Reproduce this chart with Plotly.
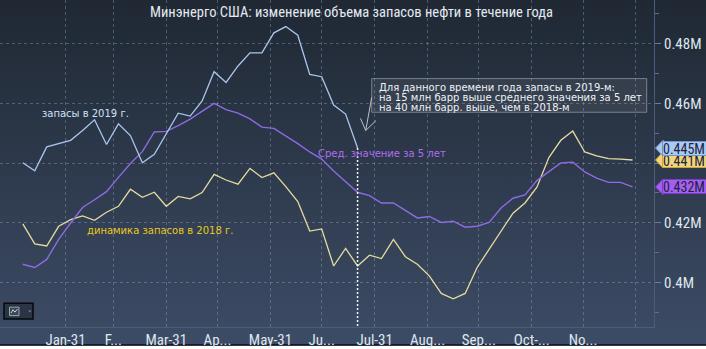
import base64
import pandas as pd
import plotly.graph_objects as go

# Weekly observation dates (one point per week over the year)
weeks = pd.date_range("2019-01-06", periods=52, freq="7D")

# Crude oil stocks, million barrels expressed in "M" units of the axis
stocks_2019 = [0.4401, 0.4374, 0.4454, 0.4465, 0.4476, 0.4509, 0.4545, 0.4462,
               0.4531, 0.4492, 0.4401, 0.4429, 0.4498, 0.4567, 0.4557, 0.4608,
               0.4706, 0.4670, 0.4725, 0.4769, 0.4769, 0.4836, 0.4857, 0.4828,
               0.4697, 0.4689, 0.4594, 0.4564, 0.445]

avg_5y = [0.4061, 0.4050, 0.4077, 0.4144, 0.4199, 0.4251, 0.4277, 0.4304,
          0.4352, 0.4398, 0.4438, 0.4504, 0.4506, 0.4525, 0.4547, 0.4575,
          0.4600, 0.4579, 0.4567, 0.4548, 0.4520, 0.4516, 0.4491, 0.4465,
          0.4437, 0.4413, 0.4373, 0.4338, 0.4302, 0.4291, 0.4266, 0.4266,
          0.4240, 0.4216, 0.4221, 0.4201, 0.4205, 0.4185, 0.4188, 0.4201,
          0.4249, 0.4282, 0.4293, 0.4341, 0.4371, 0.4400, 0.4403, 0.4370,
          0.4349, 0.4335, 0.4335, 0.432]

stocks_2018 = [0.4196, 0.4129, 0.4122, 0.4188, 0.4210, 0.4223, 0.4208, 0.4235,
               0.4255, 0.4312, 0.4285, 0.4302, 0.4255, 0.4288, 0.4280, 0.4301,
               0.4362, 0.4343, 0.4329, 0.4382, 0.4351, 0.4367, 0.4321, 0.4271,
               0.4172, 0.4179, 0.4055, 0.4114, 0.4055, 0.4091, 0.4080, 0.4144,
               0.4086, 0.4061, 0.4022, 0.3963, 0.3945, 0.3963, 0.4050, 0.4111,
               0.4172, 0.4232, 0.4266, 0.4319, 0.4418, 0.4476, 0.4507, 0.4437,
               0.4424, 0.4415, 0.4413, 0.441]

month_ends = ["2019-01-31", "2019-02-28", "2019-03-31", "2019-04-30",
              "2019-05-31", "2019-06-30", "2019-07-31", "2019-08-31",
              "2019-09-30", "2019-10-31", "2019-11-30", "2019-12-31"]
month_labels = ["Jan-31", "F...", "Mar-31", "Ap...", "May-31", "Ju...",
                "Jul-31", "Aug...", "Sep...", "Oct-...", "No...", ""]

y_ticks = [0.40, 0.42, 0.44, 0.46, 0.48]
y_labels = ["0.4M", "0.42M", "", "0.46M", "0.48M"]

title_text = "Минэнерго США: изменение объема запасов нефти в течение года"
label_2019 = "запасы в 2019 г."
label_2018 = "динамика запасов в 2018 г."
label_avg = "Сред. значение за 5 лет"
note_lines = ["Для данного времени года запасы в 2019-м:",
              "на 15 млн барр выше среднего значения за 5 лет",
              "на 40 млн барр. выше, чем в 2018-м"]

# Canvas geometry
W, H = 706, 349
ML, MR, MT, MB = 0, 52, 0, 19
PW, PH = W - ML - MR, H - MT - MB

def px(x):
    return (x - ML) / PW

def py(y):
    return 1 - (y - MT) / PH

NARROW = "Roboto Condensed, DejaVu Sans Condensed, sans-serif"
BODY = "DejaVu Sans, Verdana, sans-serif"

C2019 = "#a9c6ec"
CAVG = "#8d6be2"
C2018 = "#e4dc9e"
GRID = "rgba(150,172,200,0.38)"
AXIS = "#4a5e7c"

fig = go.Figure()
fig.add_trace(go.Scatter(x=weeks, y=stocks_2018, mode="lines",
                         line=dict(color=C2018, width=1.3), hoverinfo="skip"))
fig.add_trace(go.Scatter(x=weeks, y=avg_5y, mode="lines",
                         line=dict(color=CAVG, width=1.4), hoverinfo="skip"))
fig.add_trace(go.Scatter(x=weeks[:len(stocks_2019)], y=stocks_2019, mode="lines",
                         line=dict(color=C2019, width=1.3), hoverinfo="skip"))

# Background gradient
svg = (f'<svg xmlns="http://www.w3.org/2000/svg" width="{W}" height="{H}">'
       '<defs><linearGradient id="g" x1="0" y1="0" x2="0" y2="1">'
       '<stop offset="0" stop-color="#1f2833"/>'
       '<stop offset="1" stop-color="#3d4c66"/>'
       '</linearGradient></defs>'
       f'<rect width="{W}" height="{H}" fill="url(#g)"/></svg>')
bg_src = "data:image/svg+xml;base64," + base64.b64encode(svg.encode()).decode()

y_range = [0.40 - (330 - 285) / 3012.5, 0.40 + 285 / 3012.5]
px_per_day = 1.708
x0_date = pd.Timestamp("2019-01-31") - pd.Timedelta(days=65.5 / px_per_day)
x1_date = pd.Timestamp("2019-01-31") + pd.Timedelta(days=(PW - 65.5) / px_per_day)

shapes = []
# bottom edge band
shapes.append(dict(type="rect", xref="paper", yref="paper", layer="below",
                   x0=px(0), x1=px(W), y0=py(349), y1=py(347.2),
                   fillcolor="#151c28", line=dict(width=0)))
# current-week marker
last_i = len(stocks_2019) - 1
shapes.append(dict(type="line", xref="x", yref="y",
                   x0=weeks[last_i], x1=weeks[last_i],
                   y0=stocks_2019[-1], y1=y_range[0],
                   line=dict(color="#f2f4f6", width=1.5, dash="2px,2px")))

# callout box
shapes.append(dict(type="rect", xref="paper", yref="paper",
                   x0=px(371.7), x1=px(646.7), y0=py(113.3), y1=py(79.3),
                   fillcolor="rgba(255,255,255,0.07)",
                   line=dict(color="rgba(190,200,215,0.5)", width=1)))
# callout arrow
arrow_col = "#b9c3cf"
for (xa, ya, xb, yb) in [(371.7, 98.3, 365.7, 131.7),
                         (360.5, 119.5, 365.7, 131.7),
                         (376.0, 121.7, 365.7, 131.7)]:
    shapes.append(dict(type="line", xref="paper", yref="paper",
                       x0=px(xa), y0=py(ya), x1=px(xb), y1=py(yb),
                       line=dict(color=arrow_col, width=1)))

# chart-type button in the lower left corner
shapes.append(dict(type="rect", xref="paper", yref="paper",
                   x0=px(4), x1=px(33), y0=py(322), y1=py(306),
                   fillcolor="#2a3443", line=dict(color="#06080c", width=1.5)))
shapes.append(dict(type="rect", xref="paper", yref="paper",
                   x0=px(9.5), x1=px(19), y0=py(318.5), y1=py(310),
                   fillcolor="#3a4658", line=dict(color="#9aa6b4", width=1)))
shapes.append(dict(type="path", xref="paper", yref="paper",
                   path=(f"M {px(11)},{py(316)} L {px(13)},{py(312.5)} "
                         f"L {px(15)},{py(315)} L {px(17.5)},{py(312)}"),
                   line=dict(color="#c8d0da", width=1)))
shapes.append(dict(type="path", xref="paper", yref="paper",
                   path=(f"M {px(28.3)},{py(313.3)} L {px(31.3)},{py(313.3)} "
                         f"L {px(29.8)},{py(315.3)} Z"),
                   fillcolor="#7d8a9a", line=dict(width=0)))

annotations = [
    dict(text=title_text, xref="paper", yref="paper", x=px(351), y=py(12.5),
         xanchor="center", yanchor="middle", showarrow=False,
         font=dict(family=NARROW, size=14.5, color="#e4eaf1")),
    dict(text=label_2019, xref="paper", yref="paper", x=px(39.5), y=py(114.5),
         xanchor="left", yanchor="middle", showarrow=False,
         font=dict(family=BODY, size=10, color="#cfe1f8")),
    dict(text=label_2018, xref="paper", yref="paper", x=px(84.5), y=py(232.5),
         xanchor="left", yanchor="middle", showarrow=False,
         font=dict(family=BODY, size=10, color="#e8c81e")),
    dict(text=label_avg, xref="paper", yref="paper", x=px(316), y=py(154.5),
         xanchor="left", yanchor="middle", showarrow=False,
         font=dict(family=BODY, size=10, color="#b06cf0")),
]
for line_text, yc in zip(note_lines, [88.3, 98.3, 108.0]):
    annotations.append(dict(text=line_text, xref="paper", yref="paper",
                            x=px(376.5), y=py(yc), xanchor="left", yanchor="middle",
                            showarrow=False,
                            font=dict(family=BODY, size=10, color="#eef2f6")))

# last-value tags on the right axis
half_h = 7.5 / 3012.5
tags = [(stocks_2018[-1], "#f2d57a", "#c9a642"),
        (avg_5y[-1], "#a65ef0", "#7b3ccc"),
        (stocks_2019[-1], "#aac9f4", "#6f94c8")]
for val, fill, edge in tags:
    shapes.append(dict(type="path", xref="paper", yref="y",
                       path=(f"M {px(655.5)},{val} L {px(662.5)},{val + half_h} "
                             f"L {px(664)},{val + half_h} L {px(664)},{val - half_h} "
                             f"L {px(662.5)},{val - half_h} Z"),
                       fillcolor=fill, line=dict(color=edge, width=1), layer="above"))
    annotations.append(dict(text=f"{val:.3f}M", xref="paper", yref="y",
                            x=px(661.5), y=val, xanchor="left", yanchor="middle",
                            showarrow=False, width=44, height=13, align="left",
                            bgcolor=fill, bordercolor=edge, borderwidth=1, borderpad=0,
                            font=dict(family=NARROW, size=14, color="#1a2440")))

fig.update_layout(
    width=W, height=H,
    margin=dict(l=ML, r=MR, t=MT, b=MB),
    paper_bgcolor="rgba(0,0,0,0)",
    plot_bgcolor="rgba(0,0,0,0)",
    showlegend=False,
    images=[dict(source=bg_src, xref="paper", yref="paper",
                 x=px(0), y=py(0), sizex=W / PW, sizey=H / PH,
                 xanchor="left", yanchor="top", sizing="stretch",
                 layer="below")],
    shapes=shapes,
    annotations=annotations,
    xaxis=dict(type="date", range=[x0_date, x1_date],
               tickvals=month_ends, ticktext=month_labels,
               showgrid=True, gridcolor=GRID, griddash="dot", gridwidth=1,
               showline=True, linecolor=AXIS, linewidth=1,
               ticks="", zeroline=False, ticklabelstandoff=-1,
               tickfont=dict(family=NARROW, size=15, color="#dfe6ee")),
    yaxis=dict(side="right", range=y_range,
               tickvals=y_ticks, ticktext=y_labels,
               showgrid=True, gridcolor=GRID, griddash="dot", gridwidth=1,
               showline=True, linecolor=AXIS, linewidth=1,
               ticks="outside", ticklen=6, tickcolor="#6a7d98",
               minor=dict(dtick=0.01, tick0=0.39, ticks="outside", ticklen=4,
                          tickcolor="#5d6f8a", showgrid=False),
               zeroline=False,
               tickfont=dict(family=NARROW, size=15, color="#dfe6ee")),
)

fig.write_html("out.html")
